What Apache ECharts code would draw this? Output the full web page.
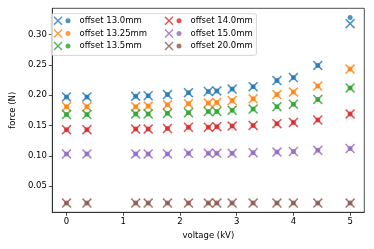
<!DOCTYPE html>
<html><head><meta charset="utf-8">
<script src="https://cdn.jsdelivr.net/npm/echarts@6/dist/echarts.min.js"></script>
<style>html,body{margin:0;padding:0;background:#fff}#c{width:374px;height:249px}</style>
</head><body><div id="c"></div>
<script>
var voltage = [0, 0.36, 1.22, 1.44, 1.78, 2.15, 2.50, 2.65, 2.92, 3.29, 3.71, 4.00, 4.43, 5.00];
var offsets = ['13.0', '13.25', '13.5', '14.0', '15.0', '20.0'];
var colors = ['#1f77b4', '#ff7f0e', '#2ca02c', '#d62728', '#9467bd', '#8c564b'];
// cross markers
var cross130  = [0.197,0.197,0.198,0.199,0.201,0.204,0.206,0.207,0.210,0.214,0.224,0.229,0.249,0.318];
var cross1325 = [0.181,0.181,0.181,0.182,0.184,0.186,0.187,0.188,0.191,0.194,0.201,0.205,0.215,0.243];
var cross135  = [0.168,0.168,0.169,0.169,0.170,0.171,0.173,0.173,0.175,0.177,0.181,0.185,0.193,0.212];
var cross140  = [0.143,0.143,0.144,0.144,0.145,0.147,0.147,0.148,0.149,0.150,0.153,0.155,0.159,0.169];
var cross150  = [0.103,0.103,0.103,0.103,0.103,0.104,0.104,0.104,0.104,0.105,0.106,0.107,0.109,0.112];
var cross200  = [0.022,0.022,0.022,0.022,0.022,0.022,0.022,0.022,0.022,0.022,0.022,0.022,0.022,0.022];
// dot markers
var dot130  = [0.197,0.197,0.198,0.199,0.201,0.204,0.206,0.207,0.210,0.214,0.224,0.229,0.249,0.328];
var dot1325 = [0.181,0.181,0.181,0.182,0.184,0.186,0.187,0.188,0.191,0.194,0.201,0.205,0.215,0.243];
var dot135  = [0.168,0.168,0.169,0.169,0.170,0.171,0.173,0.173,0.175,0.177,0.181,0.185,0.193,0.212];
var dot140  = [0.143,0.143,0.144,0.144,0.145,0.147,0.147,0.148,0.149,0.150,0.153,0.155,0.159,0.169];
var dot150  = [0.103,0.103,0.103,0.103,0.103,0.104,0.104,0.104,0.104,0.105,0.106,0.107,0.109,0.112];
var dot200  = [0.022,0.022,0.022,0.022,0.022,0.022,0.022,0.022,0.022,0.022,0.022,0.022,0.022,0.022];
var xTicks = [0, 1, 2, 3, 4, 5];
var yTicks = [0.05, 0.10, 0.15, 0.20, 0.25, 0.30];

var crossSets = [cross130, cross1325, cross135, cross140, cross150, cross200];
var dotSets = [dot130, dot1325, dot135, dot140, dot150, dot200];
var XPATH = 'path://M0,11L11,0L50,39L89,0L100,11L61,50L100,89L89,100L50,61L11,100L0,89L39,50Z';
var FONT = 'DejaVu Sans';
var FS = 8.5;

function pairs(ys){ return voltage.map(function(v,i){ return [v, ys[i]]; }); }

var series = [];
offsets.forEach(function(o, k){
  series.push({type:'scatter', name:'x ' + o, data:pairs(crossSets[k]), symbol:XPATH, symbolSize:10,
    itemStyle:{color:colors[k]}, z:2});
  series.push({type:'scatter', name:'offset ' + o + 'mm', data:pairs(dotSets[k]), symbol:'circle', symbolSize:5,
    itemStyle:{color:colors[k]}, z:3});
});

function legendX(names, left){
  return {show:true, orient:'vertical', left:left, top:16.2, itemWidth:9, itemHeight:9, itemGap:3.7,
    icon:XPATH, selectedMode:false, data:names, formatter:function(){return '';},
    textStyle:{fontFamily:FONT, fontSize:FS, lineHeight:9}, padding:0, z:10};
}
function legendDot(names, left){
  return {show:true, orient:'vertical', left:left, top:16.2, itemWidth:5, itemHeight:9, itemGap:3.7,
    icon:'circle', selectedMode:false, data:names,
    textStyle:{fontFamily:FONT, fontSize:FS, lineHeight:9, color:'#000', padding:[0,0,0,4]}, padding:0, z:10};
}

var chart = echarts.init(document.getElementById('c'), null, {renderer:'canvas'});
chart.setOption({
  animation:false,
  backgroundColor:'#fff',
  color:colors,
  grid:{left:45.7, right:9.7, top:8.3, bottom:36.7, show:true, borderColor:'#222', borderWidth:0.8, backgroundColor:'transparent'},
  graphic:[{type:'rect', left:51, top:13.3, z:5, shape:{width:205, height:41.7, r:2},
    style:{fill:'rgba(255,255,255,0.8)', stroke:'#cccccc', lineWidth:0.8}}],
  legend:[
    legendX(['x 13.0','x 13.25','x 13.5'], 53.5),
    legendDot(['offset 13.0mm','offset 13.25mm','offset 13.5mm'], 65.5),
    legendX(['x 14.0','x 15.0','x 20.0'], 164.5),
    legendDot(['offset 14.0mm','offset 15.0mm','offset 20.0mm'], 176.5)
  ],
  xAxis:{type:'value', min:-0.25, max:5.25, name:'voltage (kV)', nameLocation:'middle', nameGap:17,
    nameTextStyle:{fontFamily:FONT, fontSize:FS, color:'#000'},
    splitLine:{show:false},
    axisLine:{show:true, onZero:false, lineStyle:{color:'#222', width:0.8}},
    axisTick:{show:true, length:3.5, lineStyle:{color:'#222', width:0.8}, customValues:xTicks},
    axisLabel:{fontFamily:FONT, fontSize:FS, color:'#000', margin:5, customValues:xTicks,
      formatter:function(v){return String(v);}}},
  yAxis:{type:'value', min:0.0067, max:0.3433, name:'force (N)', nameLocation:'middle', nameGap:26,
    nameTextStyle:{fontFamily:FONT, fontSize:FS, color:'#000'},
    splitLine:{show:false},
    axisLine:{show:true, onZero:false, lineStyle:{color:'#222', width:0.8}},
    axisTick:{show:true, length:3.5, lineStyle:{color:'#222', width:0.8}, customValues:yTicks},
    axisLabel:{fontFamily:FONT, fontSize:FS, color:'#000', margin:5.5, customValues:yTicks,
      formatter:function(v){return v.toFixed(2);}}},
  series:series
});
</script></body></html>
